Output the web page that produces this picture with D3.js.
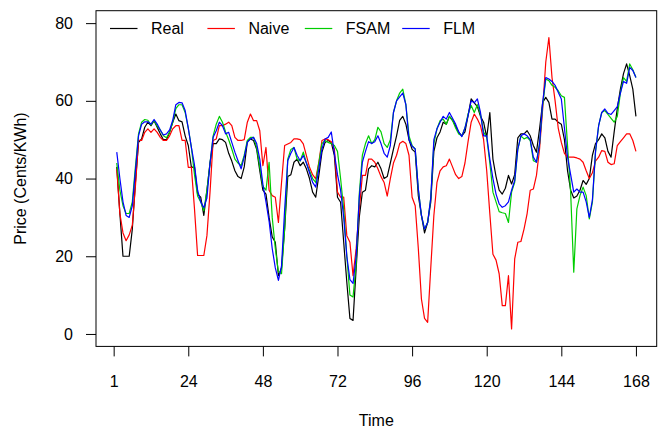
<!DOCTYPE html>
<html>
<head>
<meta charset="utf-8">
<script src="https://cdn.jsdelivr.net/npm/d3@7"></script>
<style>
  html, body { margin: 0; padding: 0; background: #fff; }
  svg text { font-family: "Liberation Sans", Arial, sans-serif; }
</style>
</head>
<body>
<div id="chart"></div>
<script>
// hours 1..168 (one week)
const hours = d3.range(1, 169);

const realPrice = [
  43, 31, 20, 20, 20, 27, 39, 49.3, 50.2, 53.2, 54.5, 53.6, 54.9, 53.2, 51.5, 50, 50, 51.9, 54.5, 56.6, 54.9, 54.6, 51, 48.5,
  42.9, 43, 36, 35.2, 30.5, 37, 44, 49, 49, 50.2, 50, 49.3, 46.5, 44.5, 42, 40.5, 40, 43, 49.5, 50.2, 49.8, 47.5, 42, 37,
  36, 30, 25, 23.6, 15, 17, 27, 40.5, 41, 44.2, 45, 43.3, 44.2, 42.5, 40, 36.5, 35.2, 40.8, 46.8, 49.3, 49.8, 49.3, 45.9, 35.2,
  33.9, 23.6, 13.3, 4, 3.5, 16.8, 30, 36.5, 37, 42.5, 43.3, 43, 44.2, 42.5, 40, 40.5, 44, 47.6, 51, 55, 56, 54, 50, 47.5,
  46.8, 35.6, 30.5, 26, 28.7, 33.9, 47, 50.5, 52, 54.5, 54, 56, 55, 53.5, 51.9, 51, 52, 56.2, 60.5, 59.5, 58.5, 56, 54.5, 50.6,
  57, 45, 40.5, 37, 36, 37.5, 40.8, 38.6, 41, 50.5, 51.5, 51.5, 52.3, 51, 48.5, 46.8, 52.8, 59.6, 60.9, 59.6, 55.3, 55.3, 54.5, 54,
  50, 42, 37, 35, 35.5, 37, 39.5, 38.5, 40, 46, 49, 50, 51.5, 50.5, 47, 45.5, 52, 58, 63, 67, 69.5, 66.5, 63, 56
];

const naivePrice = [
  42.5, 31, 26, 24, 25.5, 28, 38, 49.8, 49.8, 51.9, 52.8, 51.9, 52.8, 51.9, 50.6, 49.8, 49.8, 51, 52.8, 53.6, 53.6, 49.8, 49.8, 42.9,
  42.9, 32.2, 20.2, 20.2, 20.2, 25.3, 36.5, 49.8, 50.2, 53.6, 53.6, 54, 54.5, 53.6, 50.6, 49.8, 49.8, 50, 54.5, 56.6, 54.9, 54.9, 52.3, 43.3,
  48, 37, 35.6, 35.2, 28.7, 39, 48.5, 48.9, 49.3, 50.2, 50.2, 50, 48.9, 45.9, 42.9, 41, 39.9, 44.2, 49.8, 50.2, 50, 49.5, 47.6, 36.5,
  35.2, 35.2, 25.3, 23.6, 15, 21.9, 32, 40.8, 40.8, 45, 45, 44.2, 42.5, 40.5, 39, 35.5, 40, 44, 46, 49, 49.6, 49, 46, 35.2,
  33, 22, 9, 4, 3, 17, 30.5, 39, 42, 43, 43.3, 45, 43, 41, 40, 40.5, 44, 49.5, 54.5, 56.6, 55.3, 53.6, 50, 42,
  31, 20.5, 19, 15.5, 7.3, 7.3, 15, 1.3, 19.3, 23.6, 23.8, 27, 31, 37, 37.3, 40.8, 47.6, 58, 70, 76.3, 66, 60, 53, 49.3,
  46.5, 45.5, 45.5, 45.5, 45.3, 45, 44.2, 42, 40, 41.5, 44.5, 45.5, 47.2, 47, 44.2, 43.6, 43.8, 48.5, 49.5, 50.5, 51.5, 51.5, 49.8, 47
];

const fsamPrice = [
  44, 37, 33, 31, 31, 34, 43, 51.5, 54.5, 55.2, 55, 53.8, 55, 53.5, 52.5, 51, 50.5, 52, 54.5, 58, 59, 59, 57, 53,
  48, 41, 35.5, 34, 31.7, 37, 44, 51, 54, 56, 54.5, 52, 50, 47.6, 45, 44, 43.3, 46, 49.8, 50.6, 50.6, 48, 43, 38,
  37, 44.2, 30, 22, 16, 15.5, 27, 45, 47.5, 48, 45, 44.5, 46.8, 44, 42, 40, 39, 44, 49, 49.8, 49.3, 49, 48.5, 47,
  40, 32, 20, 10, 9.5, 18, 36, 46, 49, 51, 49, 50, 53.2, 52, 49, 48, 50, 57, 60, 62, 63, 59, 51, 48.5,
  47.6, 37.3, 30.5, 27, 28.7, 35, 49, 52.8, 54.9, 55.3, 54, 56, 55, 53, 51.5, 51, 53, 56.6, 58.8, 57, 59, 56.5, 52, 50.6,
  44, 36.5, 34, 31.5, 31.2, 31, 28.7, 36.5, 39, 47.5, 51, 50.2, 50.6, 49.8, 44.6, 44.2, 48.9, 58.8, 65.6, 65.2, 64, 63.5, 62.6, 61.3,
  60.9, 48.5, 36.5, 15.9, 32.2, 35.6, 37.8, 35.6, 29.6, 33.9, 46.8, 53.6, 57, 57.5, 56.5, 55.5, 54.5, 56, 62, 66, 65, 69.5, 68, 66
];

const flmPrice = [
  46.8, 40, 34, 30.5, 30, 33, 42, 51, 54, 54.6, 54.6, 54, 55.2, 54, 52.5, 51.2, 51.5, 52.5, 55, 59, 59.6, 59.5, 57.5, 53,
  48, 43.5, 37, 34, 32.5, 35, 44, 50.6, 52.3, 54.5, 53.6, 51.5, 51.9, 49.3, 46.8, 44.6, 42.5, 45.5, 49.3, 50.2, 50.6, 49, 45, 38.5,
  34, 29, 22, 17, 13.8, 17.5, 32, 44.6, 46.5, 48, 46, 44.6, 45.9, 44, 41.5, 39, 37.8, 42.5, 47.6, 50.2, 50.6, 52, 46.5, 41,
  37, 30, 20, 14, 13, 20, 35, 44.2, 47, 49.5, 49, 49.5, 51, 49, 46.5, 45.5, 48.5, 57, 60, 61, 62, 59, 50, 48.3,
  47.6, 37.3, 30.5, 27, 28.7, 35, 50, 52.8, 54.5, 56, 55.3, 57, 55.5, 54, 52, 50.8, 53, 56.2, 60, 59.5, 60.5, 57, 51, 51,
  45, 40, 36, 33.5, 32.6, 33, 34, 37, 39.5, 47.6, 51, 51.5, 51, 50, 45.5, 44.2, 49, 59.6, 66, 65.6, 65, 64, 62.2, 60.5,
  53, 45.5, 41, 36.5, 37.3, 36.5, 36.5, 34, 30, 34.5, 47, 53.6, 57, 57.9, 56.8, 56.5, 57.5, 58.5, 62, 65, 64.5, 68.6, 67.8, 66
];

const seriesNames = ["Real", "Naive", "FSAM", "FLM"];
const seriesColors = ["#000000", "#ff0000", "#00cd00", "#0000ff"];
const seriesValues = [realPrice, naivePrice, fsamPrice, flmPrice];

const xTickPos = [0, 24, 48, 72, 96, 120, 144, 168];
const xTickLabels = ["1", "24", "48", "72", "96", "120", "144", "168"];
const yTicks = [0, 20, 40, 60, 80];

const width = 660, height = 431;
const box = { left: 96, right: 656.7, top: 10.7, bottom: 346.4 };

const svg = d3.select("#chart").append("svg")
    .attr("width", width)
    .attr("height", height);

// R style: 4% padding around xlim = [1,168], ylim = [0,80]
const x = d3.scaleLinear()
    .domain([1 - 167 * 0.04, 168 + 167 * 0.04])
    .range([box.left, box.right]);

const y = d3.scaleLinear()
    .domain([-80 * 0.04, 80 * 1.04])
    .range([box.bottom, box.top]);

// axes
const yAxis = svg.append("g")
    .attr("transform", `translate(${box.left},0)`)
    .call(d3.axisLeft(y).tickValues(yTicks).tickSize(10).tickSizeOuter(0).tickPadding(13));

const xAxis = svg.append("g")
    .attr("transform", `translate(0,${box.bottom})`)
    .call(d3.axisBottom(x).tickValues(xTickPos).tickSize(10).tickSizeOuter(0).tickPadding(19)
        .tickFormat((d, i) => xTickLabels[i]));

[xAxis, yAxis].forEach(g => {
    g.select(".domain").remove();
    g.selectAll(".tick line").attr("stroke", "#000");
    g.selectAll(".tick text")
        .attr("fill", "#000")
        .style("font-size", "16px");
});

// lines
const line = d3.line()
    .x((d, i) => x(hours[i]))
    .y(d => y(d));

svg.selectAll("path.series")
    .data(seriesValues)
    .enter()
    .append("path")
    .attr("class", "series")
    .attr("d", d => line(d))
    .attr("fill", "none")
    .attr("stroke", (d, i) => seriesColors[i])
    .attr("stroke-width", 1.2)
    .attr("stroke-linejoin", "round");

// frame
svg.append("rect")
    .attr("x", box.left)
    .attr("y", box.top)
    .attr("width", box.right - box.left)
    .attr("height", box.bottom - box.top)
    .attr("fill", "none")
    .attr("stroke", "#000")
    .attr("stroke-width", 1);

// axis titles
svg.append("text")
    .attr("x", (box.left + box.right) / 2)
    .attr("y", 426)
    .attr("text-anchor", "middle")
    .style("font-size", "16px")
    .text("Time");

svg.append("text")
    .attr("transform", `translate(25.5,${(box.top + box.bottom) / 2}) rotate(-90)`)
    .attr("text-anchor", "middle")
    .style("font-size", "16px")
    .text("Price (Cents/KWh)");

// legend (horizontal, no box)
const legend = svg.append("g")
    .selectAll("g")
    .data(seriesNames)
    .enter()
    .append("g")
    .attr("transform", (d, i) => `translate(${110 + i * 97.4},28.5)`);

legend.append("line")
    .attr("x1", 0)
    .attr("x2", 27.5)
    .attr("stroke", (d, i) => seriesColors[i])
    .attr("stroke-width", 1.2);

legend.append("text")
    .attr("x", 41)
    .attr("y", 5.7)
    .style("font-size", "16px")
    .text(d => d);
</script>
</body>
</html>
